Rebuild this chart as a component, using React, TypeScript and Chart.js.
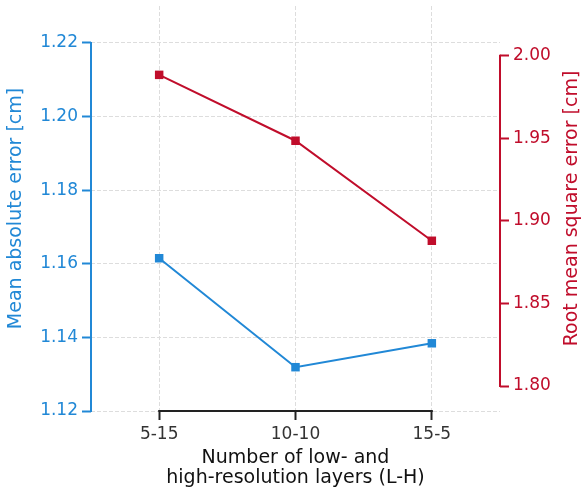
import React, { useEffect, useRef } from 'react';
import { Chart, registerables } from 'chart.js';

Chart.register(...registerables);

const categories = ['5-15', '10-10', '15-5'];
const maeValues = [1.1615, 1.1319, 1.1384];
const rmseValues = [1.9885, 1.9486, 1.888];
const maeTicks = [1.12, 1.14, 1.16, 1.18, 1.2, 1.22];
const rmseTicks = [1.8, 1.85, 1.9, 1.95, 2.0];
const rightTitle = 'Root mean square error [cm]';

const BLUE = '#2188d6';
const RED = '#c00d2b';
const AXIS = '#222222';
const GRID = '#dddddd';
const FONT = "'DejaVu Sans', sans-serif";

const spinePlugin = {
  id: 'trimmedSpines',
  beforeDatasetsDraw(chart: any) {
    const { ctx, chartArea, scales } = chart;
    ctx.save();
    ctx.lineWidth = 2;
    ctx.lineCap = 'square';
    ctx.strokeStyle = BLUE;
    ctx.beginPath();
    ctx.moveTo(chartArea.left, scales.y.getPixelForValue(maeTicks[0]));
    ctx.lineTo(chartArea.left, scales.y.getPixelForValue(maeTicks[maeTicks.length - 1]));
    ctx.stroke();
    ctx.strokeStyle = RED;
    ctx.beginPath();
    ctx.moveTo(chartArea.right, scales.y1.getPixelForValue(rmseTicks[0]));
    ctx.lineTo(chartArea.right, scales.y1.getPixelForValue(rmseTicks[rmseTicks.length - 1]));
    ctx.stroke();
    ctx.strokeStyle = AXIS;
    ctx.beginPath();
    ctx.moveTo(scales.x.getPixelForValue(0), chartArea.bottom);
    ctx.lineTo(scales.x.getPixelForValue(categories.length - 1), chartArea.bottom);
    ctx.stroke();
    ctx.restore();
  },
  afterDraw(chart: any) {
    const { ctx, chartArea, scales } = chart;
    ctx.save();
    ctx.fillStyle = RED;
    ctx.font = `19px ${FONT}`;
    ctx.textAlign = 'center';
    ctx.textBaseline = 'middle';
    ctx.translate(scales.y1.right - 10, (chartArea.top + chartArea.bottom) / 2);
    ctx.rotate(-Math.PI / 2);
    ctx.fillText(rightTitle, 0, 0);
    ctx.restore();
  },
};

export default function App() {
  const ref = useRef<HTMLCanvasElement>(null);
  useEffect(() => {
    if (!ref.current) return;
    const chart = new Chart(ref.current, {
      type: 'line',
      data: {
        labels: categories,
        datasets: [
          {
            label: 'MAE',
            data: maeValues,
            yAxisID: 'y',
            borderColor: BLUE,
            backgroundColor: BLUE,
            borderWidth: 2,
            pointStyle: 'rect',
            pointRadius: 6,
            pointBorderWidth: 0,
          },
          {
            label: 'RMSE',
            data: rmseValues,
            yAxisID: 'y1',
            borderColor: RED,
            backgroundColor: RED,
            borderWidth: 2,
            pointStyle: 'rect',
            pointRadius: 6,
            pointBorderWidth: 0,
          },
        ],
      },
      options: {
        animation: false,
        responsive: false,
        layout: { padding: { top: 5, left: 0, right: 0, bottom: 0 } },
        plugins: { legend: { display: false }, tooltip: { enabled: false } },
        scales: {
          x: {
            type: 'category',
            offset: true,
            afterFit: (s: any) => { s.height = 79; s.paddingLeft = 0; s.paddingRight = 0; },
            grid: {
              color: GRID,
              lineWidth: 1,
              offset: false,
              drawTicks: true,
              tickLength: 9,
              tickColor: AXIS,
              tickWidth: 2,
            },
            border: { display: false, dash: [4, 2] },
            ticks: {
              color: '#333333',
              font: { family: FONT, size: 17 },
              padding: 4,
              maxRotation: 0,
            },
            title: {
              display: true,
              text: ['Number of low- and', 'high-resolution layers (L-H)'],
              color: '#111111',
              font: { family: FONT, size: 19, lineHeight: 1.1 },
              padding: { top: 0, bottom: 1 },
            },
          },
          y: {
            type: 'linear',
            position: 'left',
            min: 1.12,
            max: 1.23003,
            afterFit: (s: any) => { s.width = 91; s.paddingTop = 0; s.paddingBottom = 0; },
            afterBuildTicks: (s: any) => { s.ticks = maeTicks.map((v) => ({ value: v })); },
            grid: {
              color: GRID,
              lineWidth: 1,
              drawTicks: true,
              tickLength: 9,
              tickColor: BLUE,
              tickWidth: 2,
            },
            border: { display: false, dash: [4, 2] },
            ticks: {
              color: BLUE,
              font: { family: FONT, size: 17 },
              padding: 4,
              callback: (v: any) => Number(v).toFixed(2),
            },
            title: {
              display: true,
              text: 'Mean absolute error [cm]',
              color: BLUE,
              font: { family: FONT, size: 19, lineHeight: 1.0 },
              padding: { top: 7, bottom: 0 },
            },
          },
          y1: {
            type: 'linear',
            position: 'right',
            min: 1.78489,
            max: 2.03021,
            afterFit: (s: any) => { s.width = 82; s.paddingTop = 0; s.paddingBottom = 0; },
            afterBuildTicks: (s: any) => { s.ticks = rmseTicks.map((v) => ({ value: v })); },
            grid: {
              drawOnChartArea: false,
              drawTicks: true,
              tickLength: 9,
              tickColor: RED,
              tickWidth: 2,
            },
            border: { display: false },
            ticks: {
              color: RED,
              font: { family: FONT, size: 17 },
              padding: 4,
              callback: (v: any) => Number(v).toFixed(2),
            },
            title: { display: false },
          },
        },
      },
      plugins: [spinePlugin],
    });
    return () => chart.destroy();
  }, []);

  return (
    <div style={{ position: 'fixed', left: 0, top: 0, width: 582, height: 490, background: '#ffffff' }}>
      <canvas ref={ref} width={582} height={490} style={{ display: 'block', width: 582, height: 490 }} />
    </div>
  );
}
